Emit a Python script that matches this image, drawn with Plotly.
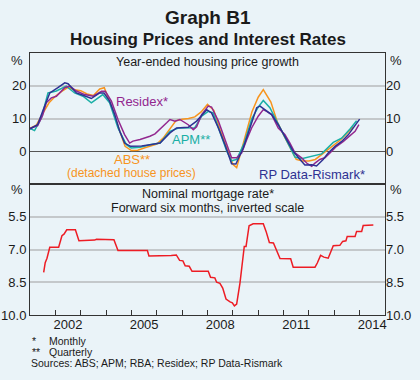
import plotly.graph_objects as go

# ---------------- data ----------------
rp_x = [2001.0, 2001.3, 2001.5, 2001.78, 2002.1, 2002.37, 2002.5, 2002.83, 2003.09, 2003.42, 2003.75, 2003.92,
        2004.14, 2004.34, 2004.54, 2004.73, 2004.97, 2005.4, 2005.73, 2006.13, 2006.52, 2006.78, 2007.24, 2007.57,
        2007.97, 2008.16, 2008.43, 2008.69, 2008.95, 2009.12, 2009.41, 2009.68, 2009.94, 2010.07, 2010.27, 2010.53,
        2010.79, 2011.05, 2011.38, 2011.65, 2011.84, 2012.11, 2012.3, 2012.56, 2012.76, 2013.03, 2013.29, 2013.55,
        2013.82, 2014.0]
rp_y = [6.8, 8.1, 12.2, 17.8, 19.4, 20.9, 20.6, 17.8, 17.1, 16.1, 17.8, 17.8,
        15.3, 11.2, 6.1, 2.5, 1.5, 1.6, 2.0, 2.5, 5.6, 7.1, 7.3, 9.2,
        12.7, 11.7, 7.1, 2.0, -3.8, -3.9, 1.0, 7.1, 13.3, 13.8, 12.7, 11.2,
        8.1, 4.6, 0.0, -2.5, -4.2, -4.1, -4.5, -2.5, -0.5, 1.5, 3.0, 5.0,
        8.1, 9.8]

abs_x = [2001.0, 2001.25, 2001.5, 2001.75, 2002.0, 2002.25, 2002.5, 2002.75, 2003.0, 2003.25, 2003.5, 2003.75,
         2003.93, 2004.25, 2004.5, 2004.75, 2005.0, 2005.25, 2005.5, 2005.75, 2006.0, 2006.25, 2006.5, 2006.75,
         2007.0, 2007.25, 2007.5, 2007.75, 2008.0, 2008.25, 2008.5, 2008.75, 2009.0, 2009.15, 2009.5, 2009.75,
         2010.0, 2010.2, 2010.5, 2010.75, 2011.0, 2011.25, 2011.5, 2011.75, 2012.0, 2012.25, 2012.5, 2012.75,
         2013.0, 2013.25, 2013.5, 2013.75]
abs_y = [7.0, 8.0, 11.5, 14.8, 16.8, 18.3, 19.5, 18.8, 18.5, 17.5, 17.0, 19.0,
         19.4, 13.0, 7.0, 1.5, 0.2, 0.3, 1.0, 1.5, 2.2, 4.0, 6.5, 9.3,
         9.8, 10.0, 10.5, 12.0, 14.3, 12.5, 6.5, 1.0, -4.0, -5.0, 5.0, 12.0,
         16.5, 18.8, 15.0, 9.0, 5.0, 1.0, -2.5, -3.0, -3.0, -2.5, -1.0, 0.3,
         2.0, 3.5, 5.5, 7.5]

apm_x = [2001.0, 2001.18, 2001.45, 2001.71, 2002.04, 2002.43, 2002.76, 2003.09, 2003.42, 2003.75, 2003.87, 2004.14,
         2004.47, 2004.8, 2004.99, 2005.34, 2005.73, 2006.13, 2006.52, 2006.85, 2007.38, 2007.5, 2007.77, 2008.03,
         2008.22, 2008.49, 2008.76, 2008.95, 2009.15, 2009.45, 2009.75, 2010.0, 2010.2, 2010.46, 2010.79, 2011.12,
         2011.45, 2011.71, 2011.95, 2012.24, 2012.5, 2012.96, 2013.29, 2013.62, 2013.88]
apm_y = [7.0, 6.3, 10.2, 17.8, 18.4, 19.9, 17.8, 16.8, 14.8, 16.8, 17.3, 14.8,
         7.1, 2.0, 1.0, 1.2, 2.0, 2.5, 6.1, 7.1, 7.1, 7.2, 10.7, 12.2,
         11.7, 6.1, 0.0, -2.9, -2.5, 2.5, 10.0, 13.5, 15.5, 13.3, 8.1, 3.3,
         -1.8, -2.3, -1.8, -1.3, -0.8, 2.7, 4.0, 6.8, 9.3]

res_x = [2001.0, 2001.3, 2001.5, 2001.64, 2001.84, 2002.04, 2002.37, 2002.57, 2002.83, 2003.16, 2003.49, 2003.82,
         2003.97, 2004.21, 2004.47, 2004.73, 2004.93, 2005.06, 2005.34, 2005.54, 2005.73, 2005.93, 2006.19, 2006.39,
         2006.52, 2006.72, 2006.91, 2007.24, 2007.44, 2007.57, 2007.77, 2008.03, 2008.16, 2008.43, 2008.69, 2008.95,
         2009.15, 2009.35, 2009.55, 2009.74, 2010.0, 2010.2, 2010.33, 2010.53, 2010.79, 2011.05, 2011.25, 2011.45,
         2011.71, 2011.91, 2012.11, 2012.24, 2012.43, 2012.63, 2012.83, 2013.09, 2013.36, 2013.62, 2013.82, 2013.97]
res_y = [7.0, 7.8, 11.0, 14.8, 16.3, 16.8, 19.4, 19.9, 18.4, 17.3, 16.8, 18.3,
         18.3, 15.3, 9.7, 5.1, 2.5, 3.1, 3.6, 4.0, 4.6, 5.3, 7.1, 8.7,
         9.7, 9.2, 9.7, 8.1, 6.6, 7.5, 11.2, 13.8, 13.5, 9.2, 3.6, -2.0,
         -2.0, -0.5, 3.6, 7.1, 10.7, 12.7, 12.2, 11.2, 7.1, 5.1, 2.5, -0.5,
         -2.0, -3.6, -4.6, -3.6, -2.5, -2.0, -0.5, 1.5, 3.0, 4.6, 6.1, 8.1]

mort_x = [2001.54, 2001.6, 2001.67, 2001.78, 2002.13, 2002.26, 2002.34, 2002.45, 2002.79, 2002.93, 2003.55, 2003.62,
          2004.31, 2004.47, 2005.63, 2005.69, 2006.57, 2006.77, 2006.9, 2007.03, 2007.12, 2007.28, 2007.39, 2008.03,
          2008.12, 2008.29, 2008.36, 2008.49, 2008.6, 2008.73, 2008.89, 2008.98, 2009.06, 2009.15, 2009.28, 2009.45,
          2009.52, 2009.64, 2009.8, 2010.2, 2010.31, 2010.44, 2010.6, 2010.86, 2011.28, 2011.38, 2012.24, 2012.33,
          2012.46, 2012.59, 2012.76, 2012.96, 2013.22, 2013.33, 2013.46, 2013.51, 2013.82, 2013.88, 2014.08, 2014.14,
          2014.54]
mort_y = [8.05, 7.6, 7.4, 6.9, 6.9, 6.37, 6.3, 6.1, 6.1, 6.6, 6.57, 6.53,
          6.55, 7.05, 7.05, 7.3, 7.28, 7.25, 7.5, 7.52, 7.75, 7.77, 8.0, 8.0,
          8.27, 8.3, 8.5, 8.55, 8.77, 9.27, 9.4, 9.44, 9.58, 9.5, 8.54, 6.86,
          6.86, 5.91, 5.82, 5.82, 6.17, 6.68, 6.7, 7.41, 7.42, 7.81, 7.81, 7.62,
          7.27, 7.35, 7.4, 6.83, 6.81, 6.63, 6.6, 6.4, 6.4, 6.17, 6.17, 5.9,
          5.88]

top_ticks = [0, 10, 20]
bot_ticks = [5.5, 7.0, 8.5, 10.0]
bot_ticktext = ["5.5", "7.0", "8.5", "10.0"]
year_labels = ["2002", "2005", "2008", "2011", "2014"]
year_label_pos = [2002.5, 2005.5, 2008.5, 2011.5, 2014.5]
year_ticks = list(range(2002, 2015))

# ---------------- style ----------------
BG = "#EAF3F8"
FONT = "Liberation Sans, Arial, sans-serif"
TXT = "#1a1a1a"
FRAME = "#333333"
GRID = "#C4C8CB"
C_RP = "#2E3192"
C_ABS = "#F7941D"
C_APM = "#1AAFA6"
C_RES = "#92278F"
C_MORT = "#ED1C24"

fig = go.Figure()
lw = 1.5
fig.add_trace(go.Scatter(x=abs_x, y=abs_y, mode="lines", line=dict(color=C_ABS, width=lw), xaxis="x", yaxis="y"))
fig.add_trace(go.Scatter(x=apm_x, y=apm_y, mode="lines", line=dict(color=C_APM, width=lw), xaxis="x", yaxis="y"))
fig.add_trace(go.Scatter(x=res_x, y=res_y, mode="lines", line=dict(color=C_RES, width=lw), xaxis="x", yaxis="y"))
fig.add_trace(go.Scatter(x=rp_x, y=rp_y, mode="lines", line=dict(color=C_RP, width=lw), xaxis="x", yaxis="y"))
fig.add_trace(go.Scatter(x=mort_x, y=mort_y, mode="lines", line=dict(color=C_MORT, width=lw), xaxis="x2", yaxis="y2"))
# invisible traces to carry the right-hand axes
fig.add_trace(go.Scatter(x=[None], y=[None], xaxis="x", yaxis="y3", showlegend=False, hoverinfo="skip"))
fig.add_trace(go.Scatter(x=[None], y=[None], xaxis="x2", yaxis="y4", showlegend=False, hoverinfo="skip"))

tickfont = dict(family=FONT, size=13, color=TXT)
common_x = dict(range=[2001, 2015], showgrid=False, zeroline=False, showline=True, linecolor=FRAME,
                linewidth=1, mirror=True, fixedrange=True, automargin=False)

fig.update_layout(
    width=420, height=380,
    margin=dict(l=30, r=35, t=53, b=65, autoexpand=False),
    paper_bgcolor=BG, plot_bgcolor=BG,
    showlegend=False,
    font=dict(family=FONT, color=TXT),
    xaxis=dict(common_x, domain=[0, 1], anchor="y", showticklabels=False, ticks=""),
    xaxis2=dict(common_x, domain=[0, 1], anchor="y2", tickmode="array", tickvals=year_label_pos,
                ticktext=year_labels, ticks="", tickfont=tickfont, ticklabelstandoff=-3,
                minor=dict(tickmode="array", tickvals=year_ticks, ticks="inside", ticklen=5,
                           tickcolor=FRAME, tickwidth=1, showgrid=False)),
    yaxis=dict(domain=[0.5, 1], anchor="x", range=[-10, 30], tickmode="array", tickvals=top_ticks,
               showgrid=True, gridcolor=GRID, gridwidth=1.5, zeroline=True, zerolinecolor="#555555",
               zerolinewidth=1.2, showline=True, linecolor=FRAME, mirror=True, ticks="", tickfont=tickfont,
               automargin=False),
    yaxis3=dict(overlaying="y", side="right", anchor="x", range=[-10, 30], tickmode="array",
                tickvals=top_ticks, showgrid=False, zeroline=False, showline=False, ticks="", tickfont=tickfont,
                automargin=False),
    yaxis2=dict(domain=[0, 0.5], anchor="x2", range=[10, 4], tickmode="array", tickvals=bot_ticks,
                ticktext=bot_ticktext, showgrid=True, gridcolor=GRID, gridwidth=1.5, zeroline=False,
                showline=True, linecolor=FRAME, mirror=True, ticks="", tickfont=tickfont, automargin=False),
    yaxis4=dict(overlaying="y2", side="right", anchor="x2", range=[10, 4], tickmode="array",
                tickvals=bot_ticks, ticktext=bot_ticktext, showgrid=False, zeroline=False, showline=False,
                ticks="", tickfont=tickfont, automargin=False),
)

ann = []
def A(text, x, y, size, color=TXT, xref="paper", yref="paper", xanchor="center", yanchor="middle", bold=False,
      xshift=0):
    t = f"<b>{text}</b>" if bold else text
    ann.append(dict(text=t, x=x, y=y, xref=xref, yref=yref, xanchor=xanchor, yanchor=yanchor, showarrow=False,
                    font=dict(family=FONT, size=size, color=color), xshift=xshift))

# titles
A("Graph B1", 0.5, (315 - 17) / 262, 19, bold=True)
A("Housing Prices and Interest Rates", 0.5, (315 - 40) / 262, 17, bold=True)
# panel titles
A("Year-ended housing price growth", 0.5, (315 - 62) / 262, 12.5)
A("Nominal mortgage rate*", 0.5, (315 - 194) / 262, 12.5)
A("Forward six months, inverted scale", 0.5, (315 - 208) / 262, 12.5)
# % units
for yy in [(315 - 60) / 262, (315 - 190) / 262]:
    A("%", 0, yy, 13, xanchor="right", xshift=-5)
    A("%", 1, yy, 13, xanchor="left", xshift=3)
# series labels
A("Residex*", 2005.42, 15.2, 13, color=C_RES, xref="x", yref="y")
A("APM**", 2007.35, 3.6, 13, color=C_APM, xref="x", yref="y")
A("ABS**", 2005.02, -2.6, 13, color=C_ABS, xref="x", yref="y")
A("(detached house prices)", 2005.02, -6.7, 12, color=C_ABS, xref="x", yref="y")
A("RP Data-Rismark*", 2012.12, -7.2, 13, color=C_RP, xref="x", yref="y")
# footnotes
A("*", 0, (315 - 341) / 262, 10.5, xanchor="left")
A("Monthly", 17 / 355, (315 - 341) / 262, 10.5, xanchor="left")
A("**", 0, (315 - 352) / 262, 10.5, xanchor="left")
A("Quarterly", 17 / 355, (315 - 352) / 262, 10.5, xanchor="left")
A("Sources: ABS; APM; RBA; Residex; RP Data-Rismark", -1 / 355, (315 - 363) / 262, 10.5, xanchor="left")

fig.update_layout(annotations=ann)
fig.write_html("out.html", config={"displayModeBar": False},
               post_script="document.body.style.margin='0';document.body.style.background='" + BG + "';")
